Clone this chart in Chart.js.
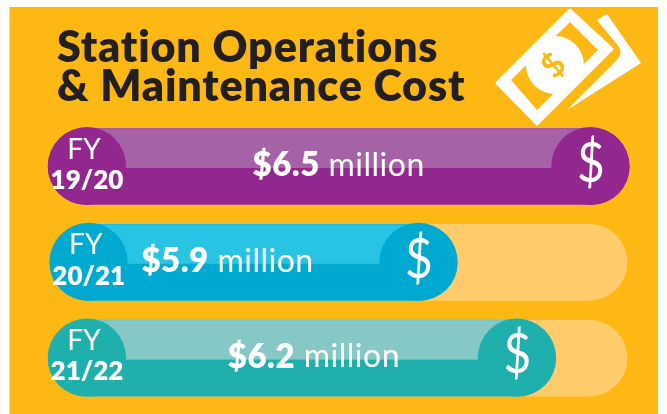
<!DOCTYPE html>
<html><head><meta charset="utf-8">
<style>html,body{margin:0;padding:0;background:#fff}canvas{display:block}</style>
<script src="https://cdn.jsdelivr.net/npm/chart.js@4"></script>
</head><body>
<canvas id="c" width="667" height="414"></canvas>
<script>
// Data
const categories = ['19/20', '20/21', '21/22'];
const costMillions = [6.5, 5.9, 6.2];
const barFillPercent = [100.4, 70.7, 87.7];   // drawn length, % of the track
const barStartPercent = [0, 0.3, 0];
const trackPercent = [100, 100, 100];
const titleLines = ['Station Operations', '& Maintenance Cost'];

// Styling
const FONT = 'Lato';
const mainColors = ['#92278F', '#00A9D0', '#1FB0AE'];
const lightColors = ['#A562A7', '#29C4E3', '#86C8C5'];
const amountCenterNudge = [0, -26, 12];

function money(ctx) {
  ctx.save();
  ctx.fillStyle = '#fff';
  ctx.lineJoin = 'round';
  ctx.beginPath();
  ctx.moveTo(597, 20); ctx.lineTo(607, 14); ctx.lineTo(641, 63); ctx.lineTo(567, 110);
  ctx.lineTo(617, 60); ctx.quadraticCurveTo(623, 53, 619, 47); ctx.closePath(); ctx.fill();
  ctx.beginPath();
  ctx.moveTo(570, 10); ctx.lineTo(612, 49); ctx.lineTo(537, 124); ctx.lineTo(497, 83); ctx.closePath();
  ctx.strokeStyle = '#fff'; ctx.lineWidth = 3; ctx.stroke(); ctx.fill();
  ctx.fillStyle = '#FDB813';
  ctx.beginPath();
  ctx.moveTo(570, 22); ctx.lineTo(598, 50); ctx.lineTo(537, 110); ctx.lineTo(511, 80); ctx.closePath(); ctx.fill();
  ctx.fillStyle = '#fff';
  ctx.beginPath(); ctx.arc(555, 65, 29, 0, Math.PI * 2); ctx.fill();
  ctx.translate(553, 65); ctx.rotate(-Math.PI / 4);
  ctx.fillStyle = '#FDB813';
  ctx.font = '700 33px ' + FONT;
  ctx.textAlign = 'center'; ctx.textBaseline = 'middle';
  ctx.fillText('$', 0, 1);
  ctx.restore();
}

const paint = {
  id: 'paint',
  beforeDraw(chart) {
    const c = chart.ctx;
    c.save();
    c.fillStyle = '#fff'; c.fillRect(0, 0, 667, 414);
    c.fillStyle = '#FDB813'; c.fillRect(9.5, 7, 648.5, 407);
    c.restore();
  },
  afterDatasetsDraw(chart) {
    const c = chart.ctx;
    const bars = chart.getDatasetMeta(1).data;
    c.save();
    bars.forEach((b, i) => {
      const r = 39, left = b.base + r, right = b.x - r;
      // glossy top half, running behind both end caps
      c.fillStyle = lightColors[i];
      c.fillRect(left, b.y - b.height / 2, right - left, b.height / 2 + 1.5);
      // end caps
      c.fillStyle = mainColors[i];
      c.beginPath(); c.arc(left, b.y - 0.5, r, 0, Math.PI * 2); c.fill();
      c.beginPath(); c.arc(right, b.y - 0.5, r, 0, Math.PI * 2); c.fill();
      // texts
      c.fillStyle = '#fff';
      c.textBaseline = 'middle';
      c.textAlign = 'center';
      c.font = '400 28px ' + FONT;
      c.fillText('FY', left - 3, b.y - 17);
      c.font = '800 26px ' + FONT;
      c.fillText(categories[i], left, b.y + 14);
      c.save();
      c.translate(right + 0.5, b.y - 3);
      c.scale(0.84, 1);
      c.font = '400 57px ' + FONT;
      c.fillText('$', 0, 0);
      c.restore();
      // amount
      const bold = '$' + costMillions[i].toFixed(1), rest = ' million';
      const fb = '800 33px ' + FONT, fr = '400 32px ' + FONT;
      c.letterSpacing = '0.5px';
      c.font = fb; const wb = c.measureText(bold).width;
      c.font = fr; const wr = c.measureText(rest).width;
      const cx = (b.base + b.x) / 2 + amountCenterNudge[i];
      const x0 = cx - (wb + wr) / 2;
      c.textAlign = 'left';
      c.font = fb; c.fillText(bold, x0, b.y - 1);
      c.font = fr; c.fillText(rest, x0 + wb, b.y - 1);
      c.letterSpacing = '0px';
    });
    // heading
    c.fillStyle = '#231F20';
    c.textAlign = 'left'; c.textBaseline = 'alphabetic';
    c.font = '800 43px ' + FONT;
    c.letterSpacing = '0.85px';
    c.fillText(titleLines[0], 57, 62);
    c.fillText(titleLines[1], 57, 101);
    c.letterSpacing = '0px';
    money(c);
    c.restore();
  }
};

new Chart(document.getElementById('c'), {
  type: 'bar',
  data: {
    labels: categories,
    datasets: [
      { label: 'Track', data: trackPercent.map((v, i) => [barStartPercent[i], v]), backgroundColor: '#FFCB6B', order: 2 },
      { label: 'Station O&M cost', data: barFillPercent.map((v, i) => [barStartPercent[i], v]), backgroundColor: mainColors, order: 1 }
    ]
  },
  options: {
    indexAxis: 'y',
    responsive: false,
    animation: false,
    layout: { padding: { left: 48, right: 40, top: 118.6, bottom: 8 } },
    plugins: { legend: { display: false }, tooltip: { enabled: false }, title: { display: false } },
    datasets: { bar: { barThickness: 76, grouped: false, borderRadius: 38, borderSkipped: false, clip: false } },
    scales: {
      x: { display: false, min: 0, max: 100 },
      y: { display: false, grid: { display: false } }
    }
  },
  plugins: [paint]
});
</script>
</body></html>
